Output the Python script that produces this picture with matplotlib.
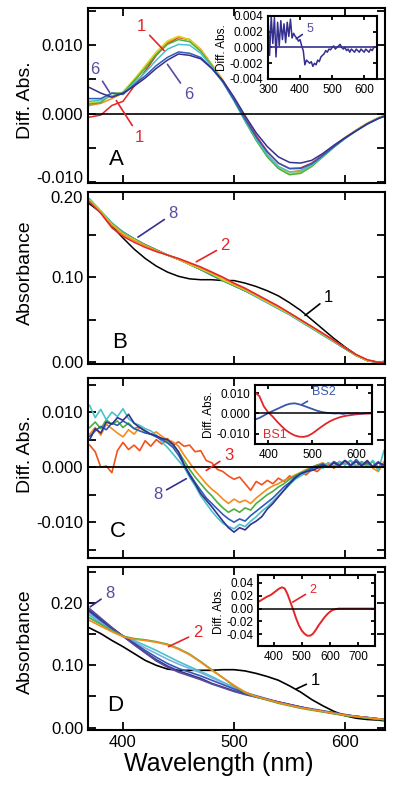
import numpy as np
import matplotlib
matplotlib.use('Agg')
import matplotlib.pyplot as plt
import matplotlib.transforms as mtransforms

plt.rcParams['font.family'] = ['Liberation Sans', 'DejaVu Sans']

# ---------------- data ----------------
wl = [370, 380, 390, 400, 410, 420, 430, 440, 450, 460, 470, 480, 490, 500,
      510, 520, 530, 540, 550, 560, 570, 580, 590, 600, 610, 620, 630, 635]

# panel A: difference spectra 1..6
a_red = [-0.0005, -0.0002, 0.0012, 0.0018, 0.0040, 0.0062, 0.0085, 0.0102, 0.0111, 0.0108,
         0.0093, 0.0070, 0.0048, 0.0022, -0.0006, -0.0032, -0.0055, -0.0072, -0.0080, -0.0079,
         -0.0072, -0.0060, -0.0047, -0.0035, -0.0024, -0.0014, -0.0006, -0.0003]
a_orange = [0.0012, 0.0015, 0.0022, 0.0030, 0.0046, 0.0068, 0.0088, 0.0104, 0.0112, 0.0108,
            0.0094, 0.0072, 0.0049, 0.0021, -0.0008, -0.0036, -0.0060, -0.0077, -0.0085, -0.0083,
            -0.0074, -0.0061, -0.0048, -0.0035, -0.0024, -0.0014, -0.0006, -0.0003]
a_yellow = [0.0016, 0.0018, 0.0026, 0.0032, 0.0050, 0.0070, 0.0090, 0.0106, 0.0113, 0.0108,
            0.0093, 0.0071, 0.0048, 0.0020, -0.0010, -0.0038, -0.0062, -0.0079, -0.0088, -0.0085,
            -0.0076, -0.0062, -0.0048, -0.0035, -0.0024, -0.0014, -0.0006, -0.0003]
a_green = [0.0014, 0.0016, 0.0030, 0.0030, 0.0048, 0.0066, 0.0086, 0.0101, 0.0108, 0.0105,
           0.0091, 0.0070, 0.0047, 0.0019, -0.0011, -0.0039, -0.0063, -0.0080, -0.0089, -0.0087,
           -0.0077, -0.0063, -0.0049, -0.0036, -0.0025, -0.0015, -0.0007, -0.0004]
a_cyan = [0.0018, 0.0020, 0.0026, 0.0030, 0.0044, 0.0060, 0.0078, 0.0094, 0.0101, 0.0100,
          0.0088, 0.0068, 0.0046, 0.0019, -0.0010, -0.0037, -0.0060, -0.0077, -0.0085, -0.0084,
          -0.0075, -0.0062, -0.0048, -0.0036, -0.0025, -0.0015, -0.0007, -0.0004]
a_blue = [0.0022, 0.0022, 0.0030, 0.0028, 0.0042, 0.0055, 0.0070, 0.0082, 0.0090, 0.0088,
          0.0082, 0.0066, 0.0046, 0.0020, -0.0008, -0.0034, -0.0056, -0.0072, -0.0080, -0.0080,
          -0.0073, -0.0061, -0.0048, -0.0036, -0.0025, -0.0015, -0.0007, -0.0004]
a_navy = [0.0038, 0.0030, 0.0024, 0.0030, 0.0040, 0.0052, 0.0066, 0.0078, 0.0087, 0.0085,
          0.0080, 0.0066, 0.0048, 0.0024, -0.0003, -0.0028, -0.0048, -0.0063, -0.0071, -0.0072,
          -0.0068, -0.0058, -0.0046, -0.0035, -0.0025, -0.0015, -0.0007, -0.0004]

# inset A: spectrum 5
wl_ins_a = list(range(300, 635, 5))
ins_a = [0.0040, -0.0010, 0.0040, 0.0005, 0.0038, -0.0012, 0.0032, 0.0002, 0.0034, 0.0010,
         0.0030, 0.0006, 0.0032, 0.0014, 0.0036, 0.0012, 0.0018, 0.0014, 0.0012, 0.0008,
         0.0010, 0.0002, -0.0004, -0.0022, -0.0016, -0.0018, -0.0020, -0.0018, -0.0024, -0.0020,
         -0.0022, -0.0016, -0.0018, -0.0012, -0.0010, -0.0008, -0.0004, -0.0006, -0.0002, -0.0003,
         0.0000, 0.0002, -0.0002, 0.0000, 0.0002, 0.0004, 0.0000, -0.0002, 0.0000, -0.0004,
         -0.0002, -0.0006, -0.0002, -0.0004, -0.0006, -0.0002, -0.0004, -0.0006, -0.0002, -0.0004,
         -0.0006, -0.0002, -0.0004, -0.0006, -0.0002, -0.0004, 0.0000]

# panel B: absorbance spectra 1..8
b_black = [0.186, 0.176, 0.160, 0.146, 0.133, 0.122, 0.113, 0.106, 0.101, 0.098, 0.097, 0.097,
           0.096, 0.096, 0.093, 0.089, 0.084, 0.078, 0.070, 0.061, 0.050, 0.039, 0.028, 0.018,
           0.009, 0.002, 0.000, 0.001]
b_red = [0.188, 0.175, 0.158, 0.148, 0.141, 0.135, 0.130, 0.126, 0.122, 0.117, 0.112, 0.106,
         0.100, 0.093, 0.087, 0.080, 0.073, 0.066, 0.058, 0.050, 0.042, 0.034, 0.026, 0.017,
         0.009, 0.003, 0.000, 0.000]
b_orange = [0.189, 0.176, 0.161, 0.150, 0.143, 0.137, 0.131, 0.126, 0.121, 0.116, 0.111, 0.105,
            0.099, 0.092, 0.086, 0.079, 0.072, 0.065, 0.058, 0.050, 0.042, 0.034, 0.025, 0.017,
            0.009, 0.003, 0.000, 0.000]
b_yellow = [0.190, 0.177, 0.162, 0.151, 0.144, 0.137, 0.131, 0.126, 0.121, 0.115, 0.110, 0.104,
            0.097, 0.091, 0.085, 0.078, 0.071, 0.064, 0.057, 0.049, 0.041, 0.033, 0.025, 0.017,
            0.008, 0.002, 0.000, 0.000]
b_green = [0.190, 0.177, 0.163, 0.152, 0.145, 0.138, 0.132, 0.126, 0.121, 0.115, 0.109, 0.103,
           0.096, 0.090, 0.084, 0.078, 0.071, 0.064, 0.057, 0.049, 0.041, 0.033, 0.025, 0.016,
           0.008, 0.002, 0.000, 0.000]
b_cyan = [0.192, 0.178, 0.164, 0.153, 0.145, 0.138, 0.132, 0.126, 0.121, 0.115, 0.109, 0.103,
          0.096, 0.090, 0.084, 0.077, 0.070, 0.063, 0.056, 0.048, 0.040, 0.032, 0.024, 0.016,
          0.008, 0.002, 0.000, 0.000]
b_blue = [0.190, 0.177, 0.163, 0.153, 0.145, 0.138, 0.132, 0.126, 0.121, 0.115, 0.109, 0.102,
          0.096, 0.090, 0.084, 0.077, 0.070, 0.063, 0.056, 0.048, 0.040, 0.032, 0.024, 0.016,
          0.008, 0.002, 0.000, 0.000]
b_navy = [0.190, 0.177, 0.163, 0.153, 0.145, 0.138, 0.132, 0.126, 0.121, 0.115, 0.109, 0.103,
          0.096, 0.090, 0.084, 0.078, 0.071, 0.064, 0.057, 0.049, 0.041, 0.033, 0.025, 0.017,
          0.008, 0.002, 0.000, 0.000]

# panel C: difference spectra 3..8 (5 nm steps)
wl_c = list(range(370, 640, 5))
c_3 = [0.0040, 0.0028, 0.0000, 0.0002, -0.0010, 0.0030, 0.0045, 0.0032, 0.0040, 0.0030,
       0.0048, 0.0038, 0.0050, 0.0042, 0.0052, 0.0040, 0.0046, 0.0038, 0.0040, 0.0028,
       0.0030, 0.0012, 0.0008, -0.0004, -0.0008, -0.0016, -0.0022, -0.0018, -0.0030, -0.0042,
       -0.0026, -0.0032, -0.0024, -0.0030, -0.0020, -0.0026, -0.0016, -0.0020, -0.0010, -0.0014,
       -0.0004, -0.0008, 0.0002, 0.0006, -0.0002, 0.0010, 0.0004, 0.0012, 0.0002, 0.0010,
       0.0000, 0.0012, -0.0006, 0.0008]
c_4 = [0.0060, 0.0072, 0.0058, 0.0078, 0.0070, 0.0062, 0.0055, 0.0068, 0.0060, 0.0072,
       0.0066, 0.0060, 0.0064, 0.0056, 0.0050, 0.0046, 0.0038, 0.0022, 0.0008, -0.0006,
       -0.0018, -0.0030, -0.0040, -0.0048, -0.0058, -0.0066, -0.0058, -0.0064, -0.0060, -0.0066,
       -0.0056, -0.0048, -0.0040, -0.0034, -0.0030, -0.0024, -0.0020, -0.0014, -0.0010, -0.0004,
       -0.0002, 0.0004, 0.0008, 0.0002, 0.0010, 0.0004, 0.0012, 0.0000, 0.0010, 0.0004,
       0.0012, -0.0002, -0.0008, 0.0010]
c_5 = [0.0072, 0.0082, 0.0070, 0.0086, 0.0078, 0.0084, 0.0072, 0.0080, 0.0070, 0.0074,
       0.0064, 0.0060, 0.0056, 0.0052, 0.0046, 0.0040, 0.0028, 0.0012, -0.0004, -0.0018,
       -0.0030, -0.0042, -0.0052, -0.0064, -0.0074, -0.0082, -0.0076, -0.0082, -0.0074, -0.0078,
       -0.0066, -0.0058, -0.0050, -0.0044, -0.0036, -0.0030, -0.0022, -0.0016, -0.0010, -0.0006,
       0.0000, 0.0004, 0.0000, 0.0008, 0.0002, 0.0010, 0.0006, 0.0012, 0.0000, 0.0010,
       0.0004, 0.0010, 0.0000, 0.0006]
c_6 = [0.0112, 0.0090, 0.0105, 0.0086, 0.0100, 0.0092, 0.0106, 0.0088, 0.0080, 0.0076,
       0.0070, 0.0066, 0.0058, 0.0046, 0.0036, 0.0024, 0.0012, 0.0000, -0.0018, -0.0034,
       -0.0052, -0.0066, -0.0080, -0.0092, -0.0102, -0.0108, -0.0112, -0.0104, -0.0108, -0.0098,
       -0.0090, -0.0080, -0.0072, -0.0062, -0.0052, -0.0042, -0.0032, -0.0022, -0.0016, -0.0010,
       -0.0004, 0.0002, -0.0002, 0.0008, 0.0000, 0.0010, 0.0004, 0.0012, 0.0002, 0.0008,
       0.0000, 0.0012, -0.0006, 0.0030]
c_7 = [0.0056, 0.0066, 0.0074, 0.0068, 0.0080, 0.0076, 0.0084, 0.0078, 0.0070, 0.0066,
       0.0062, 0.0060, 0.0055, 0.0050, 0.0044, 0.0036, 0.0022, 0.0004, -0.0012, -0.0028,
       -0.0042, -0.0056, -0.0066, -0.0076, -0.0086, -0.0094, -0.0100, -0.0094, -0.0098, -0.0088,
       -0.0080, -0.0072, -0.0064, -0.0056, -0.0046, -0.0036, -0.0028, -0.0018, -0.0012, -0.0008,
       -0.0002, 0.0002, 0.0006, 0.0000, 0.0010, 0.0004, 0.0012, 0.0002, 0.0014, 0.0004,
       0.0008, 0.0002, 0.0010, 0.0000]
c_8 = [0.0050, 0.0070, 0.0062, 0.0082, 0.0078, 0.0090, 0.0085, 0.0096, 0.0080, 0.0072,
       0.0066, 0.0060, 0.0057, 0.0052, 0.0050, 0.0042, 0.0028, 0.0005, -0.0015, -0.0030,
       -0.0048, -0.0060, -0.0072, -0.0085, -0.0098, -0.0110, -0.0118, -0.0110, -0.0114, -0.0104,
       -0.0098, -0.0090, -0.0076, -0.0066, -0.0054, -0.0042, -0.0030, -0.0020, -0.0012, -0.0008,
       -0.0006, -0.0002, 0.0004, 0.0000, 0.0008, 0.0002, 0.0012, 0.0004, 0.0010, 0.0002,
       0.0012, 0.0000, 0.0008, 0.0004]

# inset C: basis spectra
wl_bs = [372, 380, 390, 400, 410, 420, 430, 440, 450, 460, 470, 480, 490, 500,
         510, 520, 530, 540, 550, 560, 570, 580, 590, 600, 610, 620, 630]
bs1 = [0.0100, 0.0085, 0.0035, 0.0005, -0.0015, -0.0040, -0.0062, -0.0082, -0.0097, -0.0108,
       -0.0114, -0.0115, -0.0110, -0.0098, -0.0082, -0.0066, -0.0051, -0.0038, -0.0028, -0.0020,
       -0.0014, -0.0010, -0.0007, -0.0004, -0.0002, -0.0001, 0.0000]
bs2 = [-0.0028, -0.0022, -0.0010, 0.0002, 0.0012, 0.0022, 0.0032, 0.0042, 0.0048, 0.0050,
       0.0045, 0.0038, 0.0030, 0.0022, 0.0014, 0.0008, 0.0004, 0.0002, 0.0000, 0.0001,
       -0.0002, 0.0002, -0.0001, 0.0002, -0.0001, 0.0002, 0.0001]

# panel D: absorbance spectra 1..8
d_black = [0.160, 0.151, 0.140, 0.130, 0.119, 0.108, 0.100, 0.094, 0.092, 0.092, 0.092, 0.092,
           0.093, 0.093, 0.091, 0.087, 0.082, 0.076, 0.067, 0.057, 0.045, 0.035, 0.026, 0.019,
           0.015, 0.013, 0.012, 0.011]
d_orange = [0.172, 0.163, 0.154, 0.146, 0.142, 0.140, 0.137, 0.133, 0.126, 0.117, 0.105, 0.092,
            0.080, 0.068, 0.057, 0.050, 0.045, 0.040, 0.036, 0.032, 0.029, 0.026, 0.023, 0.020,
            0.018, 0.016, 0.014, 0.013]
d_green = [0.176, 0.166, 0.156, 0.147, 0.143, 0.141, 0.138, 0.134, 0.127, 0.118, 0.106, 0.093,
           0.080, 0.067, 0.056, 0.049, 0.044, 0.039, 0.035, 0.031, 0.028, 0.025, 0.022, 0.019,
           0.017, 0.015, 0.013, 0.013]
d_cyan = [0.180, 0.168, 0.157, 0.147, 0.140, 0.132, 0.124, 0.115, 0.106, 0.098, 0.090, 0.082,
          0.073, 0.065, 0.057, 0.050, 0.045, 0.040, 0.036, 0.032, 0.029, 0.026, 0.023, 0.020,
          0.018, 0.016, 0.014, 0.013]
d_lblue = [0.183, 0.170, 0.158, 0.147, 0.138, 0.128, 0.119, 0.110, 0.102, 0.095, 0.088, 0.080,
           0.072, 0.064, 0.057, 0.050, 0.045, 0.040, 0.036, 0.032, 0.029, 0.026, 0.023, 0.020,
           0.018, 0.016, 0.014, 0.013]
d_blue = [0.186, 0.172, 0.159, 0.147, 0.136, 0.124, 0.113, 0.103, 0.095, 0.089, 0.083, 0.076,
          0.069, 0.062, 0.056, 0.051, 0.046, 0.041, 0.037, 0.033, 0.030, 0.027, 0.024, 0.021,
          0.018, 0.016, 0.014, 0.013]
d_navy = [0.188, 0.174, 0.160, 0.147, 0.134, 0.121, 0.109, 0.099, 0.091, 0.085, 0.079, 0.071,
          0.065, 0.059, 0.054, 0.049, 0.045, 0.041, 0.037, 0.033, 0.029, 0.026, 0.023, 0.020,
          0.018, 0.016, 0.014, 0.013]
d_purple = [0.191, 0.176, 0.161, 0.147, 0.133, 0.120, 0.107, 0.097, 0.089, 0.083, 0.077, 0.070,
            0.064, 0.058, 0.053, 0.049, 0.045, 0.041, 0.037, 0.033, 0.029, 0.026, 0.023, 0.020,
            0.018, 0.016, 0.014, 0.013]

# inset D: spectrum 2
wl_ins_d = [345, 360, 375, 390, 405, 420, 430, 440, 450, 460, 470, 480, 490, 500, 510, 520,
            530, 540, 550, 560, 570, 580, 590, 600, 610, 620, 630, 640, 680, 720, 760]
ins_d = [0.010, 0.014, 0.018, 0.021, 0.026, 0.031, 0.033, 0.031, 0.022, 0.010, -0.002, -0.015,
         -0.026, -0.034, -0.039, -0.042, -0.042, -0.039, -0.033, -0.026, -0.020, -0.014, -0.009,
         -0.005, -0.002, -0.001, 0.000, 0.000, 0.000, 0.000, 0.000]

# ---------------- colours ----------------
RED = '#e2262a'
ORANGE = '#f58b1f'
YELLOW = '#d9d924'
GREEN = '#4daf3c'
CYAN = '#49c2c9'
LBLUE = '#7fb0e0'
BLUE = '#2f5cb8'
NAVY = '#35308f'
PURPLE = '#5b4a9e'
ORED = '#f0531c'


def style(ax, size=12, length=6):
    ax.tick_params(direction='in', top=True, right=True, length=length, width=1.3,
                   labelsize=size)
    for s in ax.spines.values():
        s.set_linewidth(1.5)


def nudge(label, dy):
    # shift one tick label up/down by dy points
    label.set_transform(label.get_transform() +
                        mtransforms.ScaledTranslation(0, dy / 72., fig.dpi_scale_trans))


fig = plt.figure(figsize=(4, 7.86), dpi=100)

axA = fig.add_axes([0.22, 0.7672, 0.7425, 0.2226])
axB = fig.add_axes([0.22, 0.5369, 0.7425, 0.2188])
axC = fig.add_axes([0.22, 0.2901, 0.7425, 0.2290])
axD = fig.add_axes([0.22, 0.0712, 0.7425, 0.2074])

xlim = (368.5, 636)
ylab_x = -0.182

# ---- A ----
for y, c in [(a_red, RED), (a_orange, ORANGE), (a_yellow, YELLOW), (a_green, GREEN),
             (a_cyan, CYAN), (a_blue, BLUE), (a_navy, NAVY)]:
    axA.plot(wl, y, color=c, lw=1.1)
axA.axhline(0, color='k', lw=1.2)
axA.set_xlim(xlim)
axA.set_ylim(-0.0101, 0.0154)
axA.set_yticks([-0.010, -0.005, 0.0, 0.005, 0.010, 0.015])
axA.set_yticklabels(['-0.010', '', '0.000', '', '0.010', ''])
axA.set_ylabel('Diff. Abs.', fontsize=14)
axA.yaxis.set_label_coords(ylab_x, 0.474)
axA.text(394, -0.0067, 'A', fontsize=16, ha='center', va='center')
lk = dict(arrowstyle='-', lw=1.2, shrinkA=1, shrinkB=0)
axA.annotate('1', xy=(437, 0.0092), xytext=(416.5, 0.0127), color=RED, fontsize=12,
             ha='center', va='center', arrowprops=dict(color=RED, **lk))
axA.annotate('1', xy=(394, 0.0019), xytext=(415, -0.0034), color=RED, fontsize=12,
             ha='center', va='center', arrowprops=dict(color=RED, **lk))
axA.annotate('6', xy=(388, 0.0031), xytext=(375, 0.0064), color=PURPLE, fontsize=12,
             ha='center', va='center', arrowprops=dict(color=PURPLE, **lk))
axA.annotate('6', xy=(440, 0.0072), xytext=(459, 0.0028), color=PURPLE, fontsize=12,
             ha='center', va='center', arrowprops=dict(color=PURPLE, **lk))
axA.set_xticks([400, 500, 600])
axA.set_xticklabels([])
style(axA)
nudge(axA.get_yticklabels()[0], 3.5)

insA = fig.add_axes([0.67, 0.8995, 0.2725, 0.0802])
insA.plot(wl_ins_a, ins_a, color=NAVY, lw=1.1)
insA.axhline(0, color=NAVY, lw=1.2)
insA.set_xlim(300, 640)
insA.set_ylim(-0.004, 0.004)
insA.set_xticks([300, 400, 500, 600])
insA.set_yticks([-0.004, -0.002, 0.0, 0.002, 0.004])
insA.set_yticklabels(['-0.004', '-0.002', '0.000', '0.002', '0.004'])
insA.set_ylabel('Diff. Abs.', fontsize=8.5, labelpad=1)
insA.annotate('5', xy=(388, 0.0011), xytext=(430, 0.0023), color=PURPLE, fontsize=9,
              ha='center', va='center', arrowprops=dict(color=NAVY, **lk))
style(insA, size=8.5, length=3)

# ---- B ----
for y, c in [(b_black, 'k'), (b_navy, NAVY), (b_blue, BLUE), (b_cyan, CYAN),
             (b_green, GREEN), (b_yellow, YELLOW), (b_orange, ORANGE), (b_red, RED)]:
    axB.plot(wl, y, color=c, lw=1.1)
axB.set_xlim(xlim)
axB.set_ylim(-0.002, 0.2)
axB.set_yticks([0.0, 0.05, 0.10, 0.15, 0.20])
axB.set_yticklabels(['0.00', '', '0.10', '', '0.20'])
axB.set_ylabel('Absorbance', fontsize=14)
axB.yaxis.set_label_coords(ylab_x, 0.532)
axB.text(397, 0.0235, 'B', fontsize=16, ha='center', va='center')
axB.annotate('8', xy=(413.5, 0.147), xytext=(445, 0.1745), color=PURPLE, fontsize=12,
             ha='center', va='center', arrowprops=dict(color=NAVY, **lk))
axB.annotate('2', xy=(466, 0.118), xytext=(492, 0.137), color=RED, fontsize=12,
             ha='center', va='center', arrowprops=dict(color=RED, **lk))
axB.annotate('1', xy=(564, 0.055), xytext=(585, 0.0765), color='k', fontsize=12,
             ha='center', va='center', arrowprops=dict(color='k', **lk))
axB.set_xticks([400, 500, 600])
axB.set_xticklabels([])
style(axB)
nudge(axB.get_yticklabels()[-1], -3.5)

# ---- C ----
for y, c in [(c_3, ORED), (c_4, ORANGE), (c_5, GREEN), (c_6, CYAN), (c_7, BLUE), (c_8, NAVY)]:
    axC.plot(wl_c, y, color=c, lw=1.2)
axC.axhline(0, color='k', lw=1.3)
axC.set_xlim(xlim)
axC.set_ylim(-0.0165, 0.0162)
axC.set_yticks([-0.015, -0.010, -0.005, 0.0, 0.005, 0.010, 0.015])
axC.set_yticklabels(['', '-0.010', '', '0.000', '', '0.010', ''])
axC.set_ylabel('Diff. Abs.', fontsize=14)
axC.yaxis.set_label_coords(ylab_x, 0.578)
axC.text(395.5, -0.0116, 'C', fontsize=16, ha='center', va='center')
axC.annotate('3', xy=(475, -0.0006), xytext=(495, 0.0021), color=RED, fontsize=12,
             ha='center', va='center', arrowprops=dict(color=RED, **lk))
axC.annotate('8', xy=(457, -0.0021), xytext=(431.5, -0.0050), color=PURPLE, fontsize=12,
             ha='center', va='center', arrowprops=dict(color=NAVY, **lk))
axC.set_xticks([400, 500, 600])
axC.set_xticklabels([])
style(axC)

insC = fig.add_axes([0.6375, 0.4351, 0.2925, 0.0751])
insC.plot(wl_bs, bs1, color=RED, lw=1.3)
insC.plot(wl_bs, bs2, color='#3a58a8', lw=1.3)
insC.axhline(0, color='k', lw=1.1)
insC.set_xlim(370, 635)
insC.set_ylim(-0.015, 0.014)
insC.set_xticks([400, 500, 600])
insC.set_yticks([-0.010, 0.0, 0.010])
insC.set_yticklabels(['-0.010', '0.000', '0.010'])
insC.set_ylabel('Diff. Abs.', fontsize=8.5, labelpad=1)
insC.text(415, -0.0108, 'BS1', color=RED, fontsize=9, ha='center', va='center')
insC.annotate('BS2', xy=(476, 0.0044), xytext=(525, 0.0105), color='#3a58a8', fontsize=9,
              ha='center', va='center', arrowprops=dict(color='#3a58a8', **lk))
style(insC, size=8.5, length=3)

# ---- D ----
for y, c in [(d_black, 'k'), (d_cyan, CYAN), (d_lblue, LBLUE), (d_blue, BLUE),
             (d_navy, NAVY), (d_purple, PURPLE), (d_green, GREEN), (d_orange, ORANGE)]:
    axD.plot(wl, y, color=c, lw=1.2)
axD.set_xlim(xlim)
axD.set_ylim(-0.004, 0.258)
axD.set_yticks([0.0, 0.05, 0.10, 0.15, 0.20, 0.25])
axD.set_yticklabels(['0.00', '', '0.10', '', '0.20', ''])
axD.set_ylabel('Absorbance', fontsize=14)
axD.yaxis.set_label_coords(ylab_x, 0.542)
axD.set_xticks([400, 500, 600])
axD.set_xlabel('Wavelength (nm)', fontsize=18)
axD.xaxis.set_label_coords(0.44, -0.135)
axD.text(393, 0.036, 'D', fontsize=16, ha='center', va='center')
axD.annotate('8', xy=(370.5, 0.194), xytext=(388, 0.216), color=PURPLE, fontsize=12,
             ha='center', va='center', arrowprops=dict(color=NAVY, **lk))
axD.annotate('2', xy=(441, 0.130), xytext=(467, 0.152), color=RED, fontsize=12,
             ha='center', va='center', arrowprops=dict(color=RED, **lk))
axD.annotate('1', xy=(556, 0.062), xytext=(573, 0.076), color='k', fontsize=12,
             ha='center', va='center', arrowprops=dict(color='k', **lk))
style(axD)

insD = fig.add_axes([0.645, 0.1781, 0.2925, 0.0903])
insD.plot(wl_ins_d, ins_d, color=RED, lw=1.4)
insD.axhline(0, color='k', lw=1.1)
insD.set_xlim(345, 760)
insD.set_ylim(-0.058, 0.052)
insD.set_xticks([400, 500, 600, 700])
insD.set_yticks([-0.04, -0.02, 0.0, 0.02, 0.04])
insD.set_yticklabels(['-0.04', '-0.02', '0.00', '0.02', '0.04'])
insD.set_ylabel('Diff. Abs.', fontsize=8.5, labelpad=1)
insD.annotate('2', xy=(468, 0.010), xytext=(540, 0.029), color=RED, fontsize=9,
              ha='center', va='center', arrowprops=dict(color=RED, **lk))
style(insD, size=8.5, length=3)

fig.savefig('out.png', dpi=100)
